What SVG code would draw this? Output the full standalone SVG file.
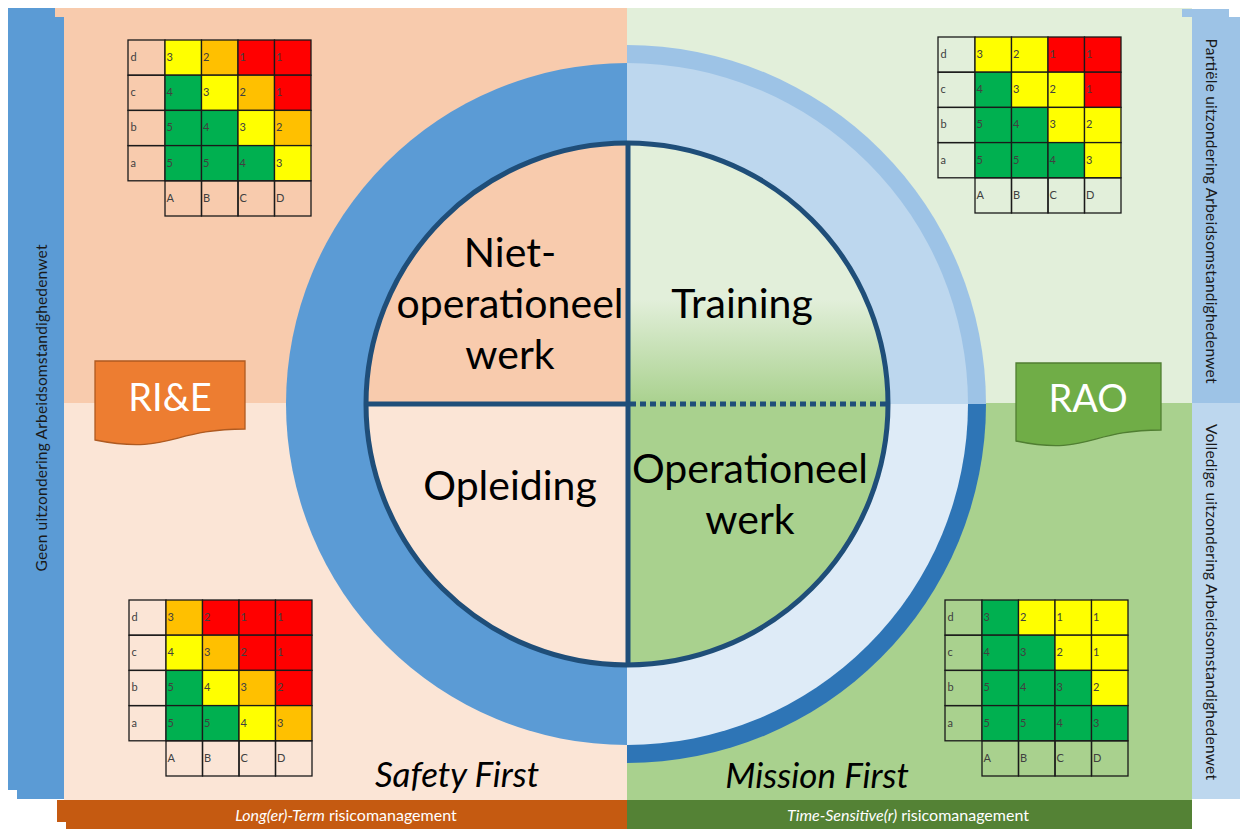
<svg xmlns="http://www.w3.org/2000/svg" width="1240" height="829" viewBox="0 0 1240 829">
<defs>
<linearGradient id="trainGrad" x1="0" y1="143" x2="0" y2="404" gradientUnits="userSpaceOnUse">
<stop offset="0" stop-color="#E2EFDA"/>
<stop offset="0.6" stop-color="#E2EFDA"/>
<stop offset="1" stop-color="#A9D18E"/>
</linearGradient>
<style>
.lbl{font-family:Lato,"Liberation Sans",sans-serif;font-size:41px;fill:#000;text-anchor:middle}
.m rect{stroke:#1a1a1a;stroke-width:1.3}
.m .e{fill:none}
.m text{font-family:Lato,"Liberation Sans",Arial,sans-serif;font-size:11px;fill:#404040}
.Y{fill:#FFFF00}.O{fill:#FFC000}.R{fill:#FF0000}.G{fill:#00B050}
.side{font-family:Lato,"Liberation Sans",sans-serif;font-size:15.5px;fill:#1a1a1a;text-anchor:middle}
.bar{font-family:Lato,"Liberation Sans",sans-serif;font-size:16px;fill:#fff;text-anchor:middle}
.motto{font-family:Lato,"Liberation Sans",sans-serif;font-style:italic;font-size:35px;fill:#000;text-anchor:middle}
.tag{font-family:Lato,"Liberation Sans",sans-serif;font-size:38px;fill:#fff;text-anchor:middle}
.ring{stroke:#1F4E79;stroke-width:5;fill:none}
</style>
</defs>

<g id="background">
<rect x="55" y="8" width="572" height="395" fill="#F8CBAD"/>
<rect x="64" y="403" width="563" height="397" fill="#FBE5D6"/>
<rect x="627" y="8" width="565" height="395" fill="#E2EFDA"/>
<rect x="627" y="403" width="565" height="397" fill="#A9D18E"/>
<polygon points="8,8 55,8 55,17 64,17 64,799 17,799 17,790 8,790" fill="#5B9BD5"/>
<polygon points="1182,9 1229,9 1229,17 1240,17 1240,403 1192,403 1192,17 1182,17" fill="#9DC3E6"/>
<rect x="1192" y="403" width="48" height="396" fill="#BDD7EE"/>
<polygon points="57,800 627,800 627,829 66,829 66,822 57,822" fill="#C55A11"/>
<rect x="627" y="800" width="565" height="29" fill="#548235"/>
</g>

<g id="side-labels">
<text class="side" transform="translate(47,408) rotate(-90)" x="0" y="0" textLength="327" lengthAdjust="spacing">Geen uitzondering  Arbeidsomstandighedenwet</text>
<text class="side" transform="translate(1206,211) rotate(90)" x="0" y="0" textLength="345" lengthAdjust="spacing">Partiële uitzondering Arbeidsomstandighedenwet</text>
<text class="side" transform="translate(1206,602) rotate(90)" x="0" y="0" textLength="356" lengthAdjust="spacing">Volledige uitzondering Arbeidsomstandighedenwet</text>
</g>

<g id="bottom-bars">
<text class="bar" x="346" y="821"><tspan font-style="italic">Long(er)-Term</tspan> risicomanagement</text>
<text class="bar" x="908" y="821"><tspan font-style="italic">Time-Sensitive(r)</tspan> risicomanagement</text>
</g>

<g id="circle">
<path d="M627,404 L627,45 A359,359 0 0 1 986,404 Z" fill="#9DC3E6"/>
<path d="M627,404 L986,404 A359,359 0 0 1 627,763 Z" fill="#2E75B6"/>
<path d="M627,63 A341,341 0 0 0 627,745 Z" fill="#5B9BD5"/>
<path d="M627,404 L627,63 A341,341 0 0 1 968,404 Z" fill="#BDD7EE"/>
<path d="M627,404 L968,404 A341,341 0 0 1 627,745 Z" fill="#DEEBF7"/>
</g>

<g id="q-niet-operationeel">
<path d="M627,404 L366,404 A261,261 0 0 1 627,143 Z" fill="#F8CBAD"/>
<text class="lbl" x="510" y="267">Niet-</text>
<text class="lbl" x="510" y="318">operationeel</text>
<text class="lbl" x="510" y="369">werk</text>
</g>
<g id="q-training">
<path d="M627,404 L627,143 A261,261 0 0 1 888,404 Z" fill="url(#trainGrad)"/>
<text class="lbl" x="742" y="318">Training</text>
</g>
<g id="q-opleiding">
<path d="M627,404 L627,665 A261,261 0 0 1 366,404 Z" fill="#FBE5D6"/>
<text class="lbl" x="510" y="500">Opleiding</text>
</g>
<g id="q-operationeel">
<path d="M627,404 L888,404 A261,261 0 0 1 627,665 Z" fill="#A9D18E"/>
<text class="lbl" x="750" y="483">Operationeel</text>
<text class="lbl" x="750" y="534">werk</text>
</g>

<g id="dividers">
<circle class="ring" cx="627" cy="404" r="261"/>
<line class="ring" x1="628" y1="143" x2="628" y2="665"/>
<line class="ring" x1="366" y1="404" x2="628" y2="404"/>
<line class="ring" x1="630" y1="404" x2="888" y2="404" stroke-dasharray="6 4"/>
</g>

<g id="tag-rie">
<path d="M95,361 H245 V429 C170,429 170,455 95,440 Z" fill="#ED7D31" stroke="#AE5A21" stroke-width="1.3"/>
<text class="tag" x="170" y="411">RI&amp;E</text>
</g>
<g id="tag-rao">
<path d="M1016,363 H1161 V430 C1088,430 1088,456 1016,441 Z" fill="#70AD47" stroke="#507E32" stroke-width="1.3"/>
<text class="tag" x="1088" y="412">RAO</text>
</g>

<g id="mottos">
<text class="motto" x="457" y="787">Safety First</text>
<text class="motto" x="817" y="788" font-size="37">Mission First</text>
</g>

<g id="matrix-tl" class="m" transform="translate(128,40)">
<rect class="e" x="0" y="0" width="37" height="35.2"/><rect class="e" x="0" y="35.2" width="37" height="35.2"/><rect class="e" x="0" y="70.4" width="37" height="35.2"/><rect class="e" x="0" y="105.6" width="37" height="35.2"/>
<rect class="Y" x="37" y="0" width="36.5" height="35.2"/><rect class="O" x="73.5" y="0" width="36.5" height="35.2"/><rect class="R" x="110" y="0" width="36.5" height="35.2"/><rect class="R" x="146.5" y="0" width="36.5" height="35.2"/>
<rect class="G" x="37" y="35.2" width="36.5" height="35.2"/><rect class="Y" x="73.5" y="35.2" width="36.5" height="35.2"/><rect class="O" x="110" y="35.2" width="36.5" height="35.2"/><rect class="R" x="146.5" y="35.2" width="36.5" height="35.2"/>
<rect class="G" x="37" y="70.4" width="36.5" height="35.2"/><rect class="G" x="73.5" y="70.4" width="36.5" height="35.2"/><rect class="Y" x="110" y="70.4" width="36.5" height="35.2"/><rect class="O" x="146.5" y="70.4" width="36.5" height="35.2"/>
<rect class="G" x="37" y="105.6" width="36.5" height="35.2"/><rect class="G" x="73.5" y="105.6" width="36.5" height="35.2"/><rect class="G" x="110" y="105.6" width="36.5" height="35.2"/><rect class="Y" x="146.5" y="105.6" width="36.5" height="35.2"/>
<rect class="e" x="37" y="140.8" width="36.5" height="35.2"/><rect class="e" x="73.5" y="140.8" width="36.5" height="35.2"/><rect class="e" x="110" y="140.8" width="36.5" height="35.2"/><rect class="e" x="146.5" y="140.8" width="36.5" height="35.2"/>
<text x="2.5" y="21">d</text><text x="2.5" y="56.2">c</text><text x="2.5" y="91.4">b</text><text x="2.5" y="126.6">a</text>
<text x="38.5" y="21">3</text><text x="75" y="21">2</text><text x="111.5" y="21">1</text><text x="148" y="21">1</text>
<text x="38.5" y="56.2">4</text><text x="75" y="56.2">3</text><text x="111.5" y="56.2">2</text><text x="148" y="56.2">1</text>
<text x="38.5" y="91.4">5</text><text x="75" y="91.4">4</text><text x="111.5" y="91.4">3</text><text x="148" y="91.4">2</text>
<text x="38.5" y="126.6">5</text><text x="75" y="126.6">5</text><text x="111.5" y="126.6">4</text><text x="148" y="126.6">3</text>
<text x="38.5" y="161.8">A</text><text x="75" y="161.8">B</text><text x="111.5" y="161.8">C</text><text x="148" y="161.8">D</text>
</g>

<g id="matrix-tr" class="m" transform="translate(938,37)">
<rect class="e" x="0" y="0" width="37" height="35.2"/><rect class="e" x="0" y="35.2" width="37" height="35.2"/><rect class="e" x="0" y="70.4" width="37" height="35.2"/><rect class="e" x="0" y="105.6" width="37" height="35.2"/>
<rect class="Y" x="37" y="0" width="36.5" height="35.2"/><rect class="Y" x="73.5" y="0" width="36.5" height="35.2"/><rect class="R" x="110" y="0" width="36.5" height="35.2"/><rect class="R" x="146.5" y="0" width="36.5" height="35.2"/>
<rect class="G" x="37" y="35.2" width="36.5" height="35.2"/><rect class="Y" x="73.5" y="35.2" width="36.5" height="35.2"/><rect class="Y" x="110" y="35.2" width="36.5" height="35.2"/><rect class="R" x="146.5" y="35.2" width="36.5" height="35.2"/>
<rect class="G" x="37" y="70.4" width="36.5" height="35.2"/><rect class="G" x="73.5" y="70.4" width="36.5" height="35.2"/><rect class="Y" x="110" y="70.4" width="36.5" height="35.2"/><rect class="Y" x="146.5" y="70.4" width="36.5" height="35.2"/>
<rect class="G" x="37" y="105.6" width="36.5" height="35.2"/><rect class="G" x="73.5" y="105.6" width="36.5" height="35.2"/><rect class="G" x="110" y="105.6" width="36.5" height="35.2"/><rect class="Y" x="146.5" y="105.6" width="36.5" height="35.2"/>
<rect class="e" x="37" y="140.8" width="36.5" height="35.2"/><rect class="e" x="73.5" y="140.8" width="36.5" height="35.2"/><rect class="e" x="110" y="140.8" width="36.5" height="35.2"/><rect class="e" x="146.5" y="140.8" width="36.5" height="35.2"/>
<text x="2.5" y="21">d</text><text x="2.5" y="56.2">c</text><text x="2.5" y="91.4">b</text><text x="2.5" y="126.6">a</text>
<text x="38.5" y="21">3</text><text x="75" y="21">2</text><text x="111.5" y="21">1</text><text x="148" y="21">1</text>
<text x="38.5" y="56.2">4</text><text x="75" y="56.2">3</text><text x="111.5" y="56.2">2</text><text x="148" y="56.2">1</text>
<text x="38.5" y="91.4">5</text><text x="75" y="91.4">4</text><text x="111.5" y="91.4">3</text><text x="148" y="91.4">2</text>
<text x="38.5" y="126.6">5</text><text x="75" y="126.6">5</text><text x="111.5" y="126.6">4</text><text x="148" y="126.6">3</text>
<text x="38.5" y="161.8">A</text><text x="75" y="161.8">B</text><text x="111.5" y="161.8">C</text><text x="148" y="161.8">D</text>
</g>

<g id="matrix-bl" class="m" transform="translate(129,600)">
<rect class="e" x="0" y="0" width="37" height="35.2"/><rect class="e" x="0" y="35.2" width="37" height="35.2"/><rect class="e" x="0" y="70.4" width="37" height="35.2"/><rect class="e" x="0" y="105.6" width="37" height="35.2"/>
<rect class="O" x="37" y="0" width="36.5" height="35.2"/><rect class="R" x="73.5" y="0" width="36.5" height="35.2"/><rect class="R" x="110" y="0" width="36.5" height="35.2"/><rect class="R" x="146.5" y="0" width="36.5" height="35.2"/>
<rect class="Y" x="37" y="35.2" width="36.5" height="35.2"/><rect class="O" x="73.5" y="35.2" width="36.5" height="35.2"/><rect class="R" x="110" y="35.2" width="36.5" height="35.2"/><rect class="R" x="146.5" y="35.2" width="36.5" height="35.2"/>
<rect class="G" x="37" y="70.4" width="36.5" height="35.2"/><rect class="Y" x="73.5" y="70.4" width="36.5" height="35.2"/><rect class="O" x="110" y="70.4" width="36.5" height="35.2"/><rect class="R" x="146.5" y="70.4" width="36.5" height="35.2"/>
<rect class="G" x="37" y="105.6" width="36.5" height="35.2"/><rect class="G" x="73.5" y="105.6" width="36.5" height="35.2"/><rect class="Y" x="110" y="105.6" width="36.5" height="35.2"/><rect class="O" x="146.5" y="105.6" width="36.5" height="35.2"/>
<rect class="e" x="37" y="140.8" width="36.5" height="35.2"/><rect class="e" x="73.5" y="140.8" width="36.5" height="35.2"/><rect class="e" x="110" y="140.8" width="36.5" height="35.2"/><rect class="e" x="146.5" y="140.8" width="36.5" height="35.2"/>
<text x="2.5" y="21">d</text><text x="2.5" y="56.2">c</text><text x="2.5" y="91.4">b</text><text x="2.5" y="126.6">a</text>
<text x="38.5" y="21">3</text><text x="75" y="21">2</text><text x="111.5" y="21">1</text><text x="148" y="21">1</text>
<text x="38.5" y="56.2">4</text><text x="75" y="56.2">3</text><text x="111.5" y="56.2">2</text><text x="148" y="56.2">1</text>
<text x="38.5" y="91.4">5</text><text x="75" y="91.4">4</text><text x="111.5" y="91.4">3</text><text x="148" y="91.4">2</text>
<text x="38.5" y="126.6">5</text><text x="75" y="126.6">5</text><text x="111.5" y="126.6">4</text><text x="148" y="126.6">3</text>
<text x="38.5" y="161.8">A</text><text x="75" y="161.8">B</text><text x="111.5" y="161.8">C</text><text x="148" y="161.8">D</text>
</g>

<g id="matrix-br" class="m" transform="translate(945,600)">
<rect class="e" x="0" y="0" width="37" height="35.2"/><rect class="e" x="0" y="35.2" width="37" height="35.2"/><rect class="e" x="0" y="70.4" width="37" height="35.2"/><rect class="e" x="0" y="105.6" width="37" height="35.2"/>
<rect class="G" x="37" y="0" width="36.5" height="35.2"/><rect class="Y" x="73.5" y="0" width="36.5" height="35.2"/><rect class="Y" x="110" y="0" width="36.5" height="35.2"/><rect class="Y" x="146.5" y="0" width="36.5" height="35.2"/>
<rect class="G" x="37" y="35.2" width="36.5" height="35.2"/><rect class="G" x="73.5" y="35.2" width="36.5" height="35.2"/><rect class="Y" x="110" y="35.2" width="36.5" height="35.2"/><rect class="Y" x="146.5" y="35.2" width="36.5" height="35.2"/>
<rect class="G" x="37" y="70.4" width="36.5" height="35.2"/><rect class="G" x="73.5" y="70.4" width="36.5" height="35.2"/><rect class="G" x="110" y="70.4" width="36.5" height="35.2"/><rect class="Y" x="146.5" y="70.4" width="36.5" height="35.2"/>
<rect class="G" x="37" y="105.6" width="36.5" height="35.2"/><rect class="G" x="73.5" y="105.6" width="36.5" height="35.2"/><rect class="G" x="110" y="105.6" width="36.5" height="35.2"/><rect class="G" x="146.5" y="105.6" width="36.5" height="35.2"/>
<rect class="e" x="37" y="140.8" width="36.5" height="35.2"/><rect class="e" x="73.5" y="140.8" width="36.5" height="35.2"/><rect class="e" x="110" y="140.8" width="36.5" height="35.2"/><rect class="e" x="146.5" y="140.8" width="36.5" height="35.2"/>
<text x="2.5" y="21">d</text><text x="2.5" y="56.2">c</text><text x="2.5" y="91.4">b</text><text x="2.5" y="126.6">a</text>
<text x="38.5" y="21">3</text><text x="75" y="21">2</text><text x="111.5" y="21">1</text><text x="148" y="21">1</text>
<text x="38.5" y="56.2">4</text><text x="75" y="56.2">3</text><text x="111.5" y="56.2">2</text><text x="148" y="56.2">1</text>
<text x="38.5" y="91.4">5</text><text x="75" y="91.4">4</text><text x="111.5" y="91.4">3</text><text x="148" y="91.4">2</text>
<text x="38.5" y="126.6">5</text><text x="75" y="126.6">5</text><text x="111.5" y="126.6">4</text><text x="148" y="126.6">3</text>
<text x="38.5" y="161.8">A</text><text x="75" y="161.8">B</text><text x="111.5" y="161.8">C</text><text x="148" y="161.8">D</text>
</g>
</svg>
